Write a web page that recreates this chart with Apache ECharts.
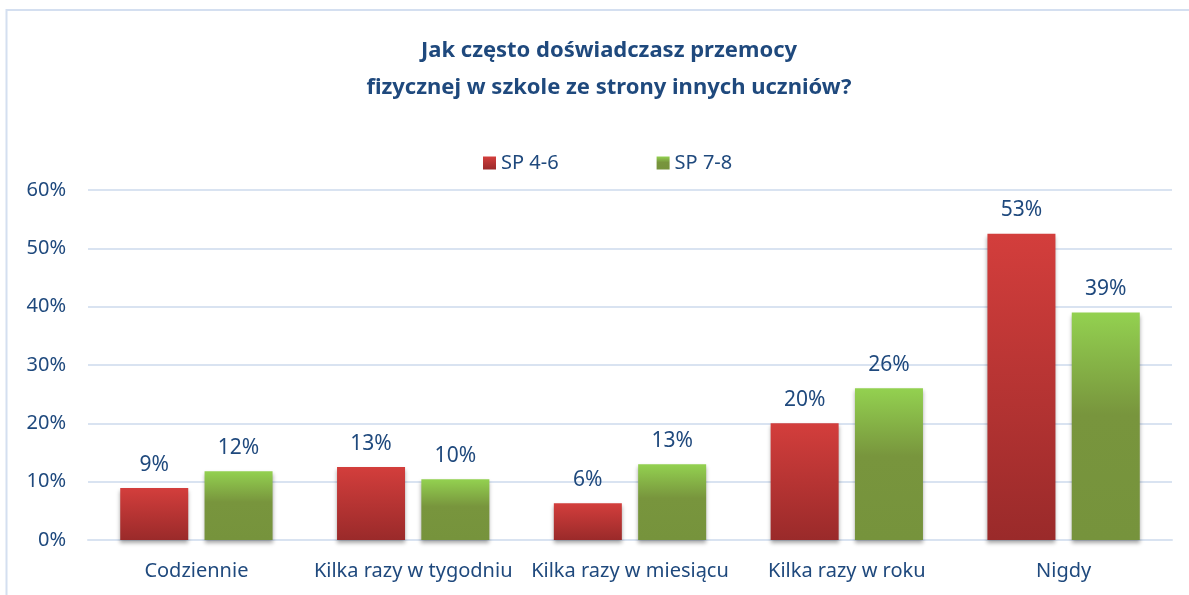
<!DOCTYPE html>
<html>
<head>
<meta charset="utf-8">
<script src="https://cdn.jsdelivr.net/npm/echarts@6/dist/echarts.min.js"></script>
<style>
  html, body { margin: 0; padding: 0; background: #fff; }
  #chart { width: 1189px; height: 595px; }
</style>
</head>
<body>
<div id="chart"></div>
<script>
// dane z wykresu
const categories = ['Codziennie', 'Kilka razy w tygodniu', 'Kilka razy w miesiącu', 'Kilka razy w roku', 'Nigdy'];
const seriesNames = ['SP 4-6', 'SP 7-8'];
const sp46 = [8.9, 12.5, 6.3, 20.0, 52.5];
const sp78 = [11.8, 10.4, 13.0, 26.0, 39.0];
const yTicks = [0, 10, 20, 30, 40, 50, 60];

const blue = '#1f497d';
const font = 'Noto Sans';

let myChart = echarts.init(document.getElementById('chart'));

const redGrad = new echarts.graphic.LinearGradient(0, 0, 0, 1, [
  { offset: 0, color: '#d33e3c' },
  { offset: 1, color: '#9a2a2a' }
]);
const greenGrad = new echarts.graphic.LinearGradient(0, 0, 0, 1, [
  { offset: 0, color: '#93d150' },
  { offset: 0.45, color: '#78953d' },
  { offset: 1, color: '#76933c' }
]);

function barSeries(name, data, color) {
  return {
    name: name,
    type: 'bar',
    data: data,
    barWidth: 68,
    barGap: '24%',
    itemStyle: {
      color: color,
      shadowColor: 'rgba(0,0,0,0.35)',
      shadowBlur: 4,
      shadowOffsetY: 3
    },
    label: {
      show: true,
      position: 'top',
      distance: 13,
      color: blue,
      fontFamily: font,
      fontSize: 21,
      formatter: p => Math.round(p.value) + '%'
    }
  };
}

let option = {
  backgroundColor: '#fff',
  animation: false,
  title: {
    text: 'Jak często doświadczasz przemocy\nfizycznej w szkole ze strony innych uczniów?',
    left: 604,
    textAlign: 'center',
    top: 27,
    textStyle: {
      color: blue,
      fontFamily: font,
      fontWeight: 'bold',
      fontSize: 22,
      lineHeight: 37
    }
  },
  legend: {
    left: 478,
    top: 148,
    itemWidth: 13,
    itemHeight: 13,
    itemGap: 98,
    icon: 'rect',
    textStyle: { color: blue, fontFamily: font, fontSize: 20, padding: [0, 0, 0, 0] },
    data: seriesNames
  },
  grid: { left: 88, right: 17, top: 190, bottom: 55 },
  xAxis: {
    type: 'category',
    data: categories,
    axisLine: { show: true, lineStyle: { color: '#d9e3f1', width: 2 } },
    axisTick: { show: false },
    axisLabel: { color: blue, fontFamily: font, fontSize: 20, margin: 21, interval: 0 }
  },
  yAxis: {
    type: 'value',
    min: yTicks[0],
    max: yTicks[yTicks.length - 1],
    interval: 10,
    axisLine: { show: false },
    axisTick: { show: false },
    axisLabel: { color: blue, fontFamily: font, fontSize: 20, margin: 22, formatter: '{value}%' },
    splitLine: { lineStyle: { color: '#d9e3f1', width: 2 } }
  },
  graphic: [
    {
      type: 'rect',
      shape: { x: 6.5, y: 10, width: 1300, height: 700 },
      style: { fill: 'none', stroke: '#d4dff0', lineWidth: 2 },
      silent: true
    }
  ],
  series: [
    barSeries(seriesNames[0], sp46, redGrad),
    barSeries(seriesNames[1], sp78, greenGrad)
  ]
};

myChart.setOption(option, true);
window.addEventListener('resize', () => { myChart.resize(); });
</script>
</body>
</html>
